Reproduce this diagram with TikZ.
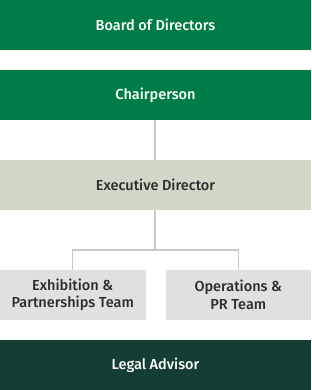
\documentclass[tikz,border=0pt]{standalone}
\usepackage{fontspec}
\setmainfont{Fira Sans}[UprightFont={* Medium}]
\definecolor{topgreen}{HTML}{007D46}
\definecolor{execgreen}{HTML}{D0D9C7}
\definecolor{teamgray}{HTML}{E0E0E0}
\definecolor{legalgreen}{HTML}{143D33}
\definecolor{linegray}{HTML}{C8C8C8}
\definecolor{darktext}{HTML}{2B2B2B}
\tikzset{
  box/.style={rectangle, inner sep=0pt, outer sep=0pt, minimum height=50pt, align=center, font=\fontsize{14.5}{17.5}\selectfont},
  widebox/.style={box, minimum width=311pt},
  teambox/.style={box, minimum width=145.5pt, fill=teamgray, text=darktext},
  conn/.style={draw=linegray, line width=1.3pt}
}
\begin{document}
\begin{tikzpicture}[x=1pt,y=-1pt]
\useasboundingbox (0,0) rectangle (311,390);
\node[widebox, fill=topgreen, text=white] (board) at (155.5,25) {Board of Directors};
\node[widebox, fill=topgreen, text=white] (chair) at (155.5,95) {Chairperson};
\node[widebox, fill=execgreen, text=darktext] (exec) at (155.5,185) {Executive Director};
\node[teambox] (exh) at (72.75,295) {Exhibition \&\\Partnerships Team};
\node[teambox] (ops) at (238.25,295) {Operations \&\\PR Team};
\node[widebox, fill=legalgreen, text=white] (legal) at (155.5,365) {Legal Advisor};
\coordinate (split) at (155,250);
\draw[conn] (chair.south -| split) -- (exec.north -| split);
\draw[conn] (exec.south -| split) -- (split);
\draw[conn] (exh.north) |- (split) -| (ops.north);
\end{tikzpicture}
\end{document}
